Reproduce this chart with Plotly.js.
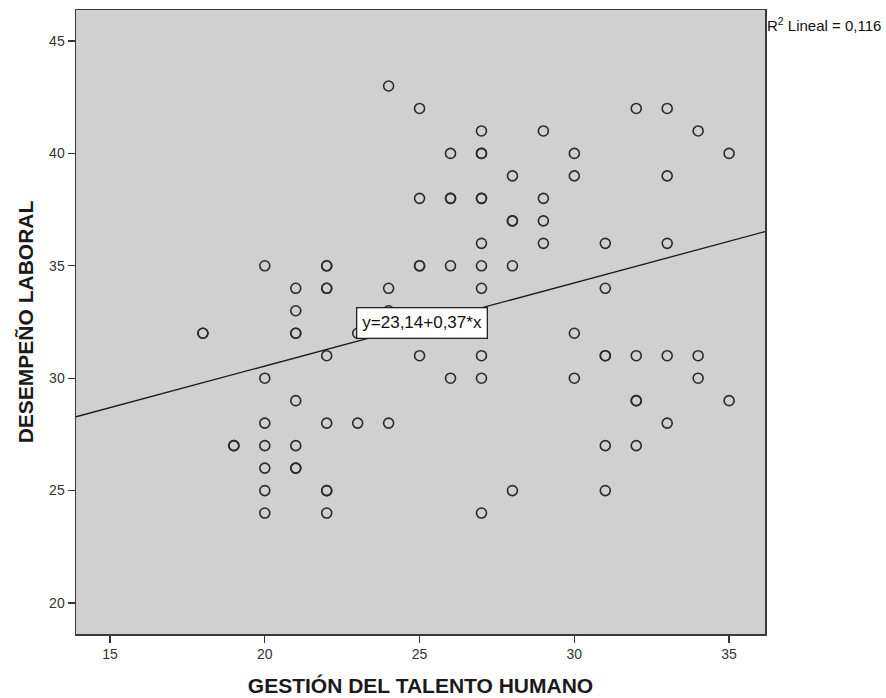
<!DOCTYPE html>
<html>
<head>
<meta charset="utf-8">
<script src="https://cdn.plot.ly/plotly-3.0.1.min.js"></script>
<style>html,body{margin:0;padding:0;background:#fff;}#chart{width:886px;height:698px;}</style>
</head>
<body>
<div id="chart"></div>
<script>
// Data
var gestionTalento = [
  18, 18, 19, 19,
  20, 20, 20, 20, 20, 20, 20,
  21, 21, 21, 21, 21, 21, 21, 21,
  22, 22, 22, 22, 22, 22, 22, 22, 22,
  23, 23,
  24, 24, 24, 24,
  25, 25, 25, 25, 25,
  26, 26, 26, 26, 26,
  27, 27, 27, 27, 27, 27, 27, 27, 27, 27, 27,
  28, 28, 28, 28, 28,
  29, 29, 29, 29,
  30, 30, 30, 30,
  31, 31, 31, 31, 31, 31,
  32, 32, 32, 32, 32,
  33, 33, 33, 33, 33,
  34, 34, 34,
  35, 35
];
var desempenoLaboral = [
  32, 32, 27, 27,
  35, 30, 28, 27, 26, 25, 24,
  34, 33, 32, 32, 29, 27, 26, 26,
  35, 35, 34, 34, 31, 28, 25, 25, 24,
  32, 28,
  43, 34, 33, 28,
  42, 38, 35, 35, 31,
  40, 38, 38, 35, 30,
  41, 40, 40, 38, 38, 36, 35, 34, 31, 30, 24,
  39, 37, 37, 35, 25,
  41, 38, 37, 36,
  40, 39, 32, 30,
  36, 34, 31, 31, 27, 25,
  42, 31, 29, 29, 27,
  42, 39, 36, 31, 28,
  41, 31, 30,
  40, 29
];
var fitIntercept = 23.14;
var fitSlope = 0.37;
var fitLabel = "y=23,14+0,37*x";
var r2Label = "R<sup>2</sup> Lineal = 0,116";
var xTitle = "GESTIÓN DEL TALENTO HUMANO";
var yTitle = "DESEMPEÑO LABORAL";
var xTicks = [15, 20, 25, 30, 35];
var yTicks = [20, 25, 30, 35, 40, 45];

var xRange = [13.9, 36.16];
var yRange = [18.62, 46.38];

var fitX = [xRange[0], xRange[1]];
var fitY = fitX.map(function (v) { return fitIntercept + fitSlope * v; });

var FONT = "Arial, 'Liberation Sans', sans-serif";

var traces = [
  {
    x: fitX, y: fitY, type: "scatter", mode: "lines",
    line: {color: "#1a1a1a", width: 1.3},
    hoverinfo: "skip", showlegend: false
  },
  {
    x: gestionTalento, y: desempenoLaboral, type: "scatter", mode: "markers",
    marker: {symbol: "circle-open", size: 10, color: "#2a2a2a", line: {width: 1.6, color: "#2a2a2a"}},
    showlegend: false
  }
];

var layout = {
  width: 886, height: 698,
  margin: {l: 76, r: 121, t: 10, b: 64},
  paper_bgcolor: "#ffffff",
  plot_bgcolor: "#d0d0d0",
  font: {family: FONT, color: "#222"},
  showlegend: false,
  xaxis: {
    range: xRange, tickvals: xTicks, ticktext: xTicks.map(String),
    showgrid: false, zeroline: false,
    ticks: "outside", ticklen: 7, tickwidth: 1.3, tickcolor: "#333",
    showline: true, mirror: true, linecolor: "#3a3a3a", linewidth: 1.5,
    tickfont: {family: FONT, size: 14, color: "#333"},
    title: {text: xTitle, font: {family: FONT, size: 21, color: "#1a1a1a", weight: "bold"}, standoff: 17},
    automargin: false
  },
  yaxis: {
    range: yRange, tickvals: yTicks, ticktext: yTicks.map(String),
    showgrid: false, zeroline: false,
    ticks: "outside", ticklen: 7, tickwidth: 1.3, tickcolor: "#333",
    showline: true, mirror: true, linecolor: "#3a3a3a", linewidth: 1.5,
    tickfont: {family: FONT, size: 14, color: "#333"},
    title: {text: yTitle, font: {family: FONT, size: 21, color: "#1a1a1a", weight: "bold"}, standoff: 10},
    automargin: false
  },
  annotations: [
    {
      xref: "x", yref: "y", x: 22.96, y: 32.45, xanchor: "left", yanchor: "middle",
      text: fitLabel, showarrow: false,
      font: {family: FONT, size: 17, color: "#111"},
      bgcolor: "#ffffff", bordercolor: "#222", borderwidth: 1.3, borderpad: 5
    },
    {
      xref: "paper", yref: "paper", x: 1, y: 0.976, xanchor: "left", yanchor: "middle",
      text: r2Label, showarrow: false,
      font: {family: FONT, size: 15, color: "#111"}
    }
  ]
};

Plotly.newPlot("chart", traces, layout, {displayModeBar: false, staticPlot: true});
</script>
</body>
</html>
